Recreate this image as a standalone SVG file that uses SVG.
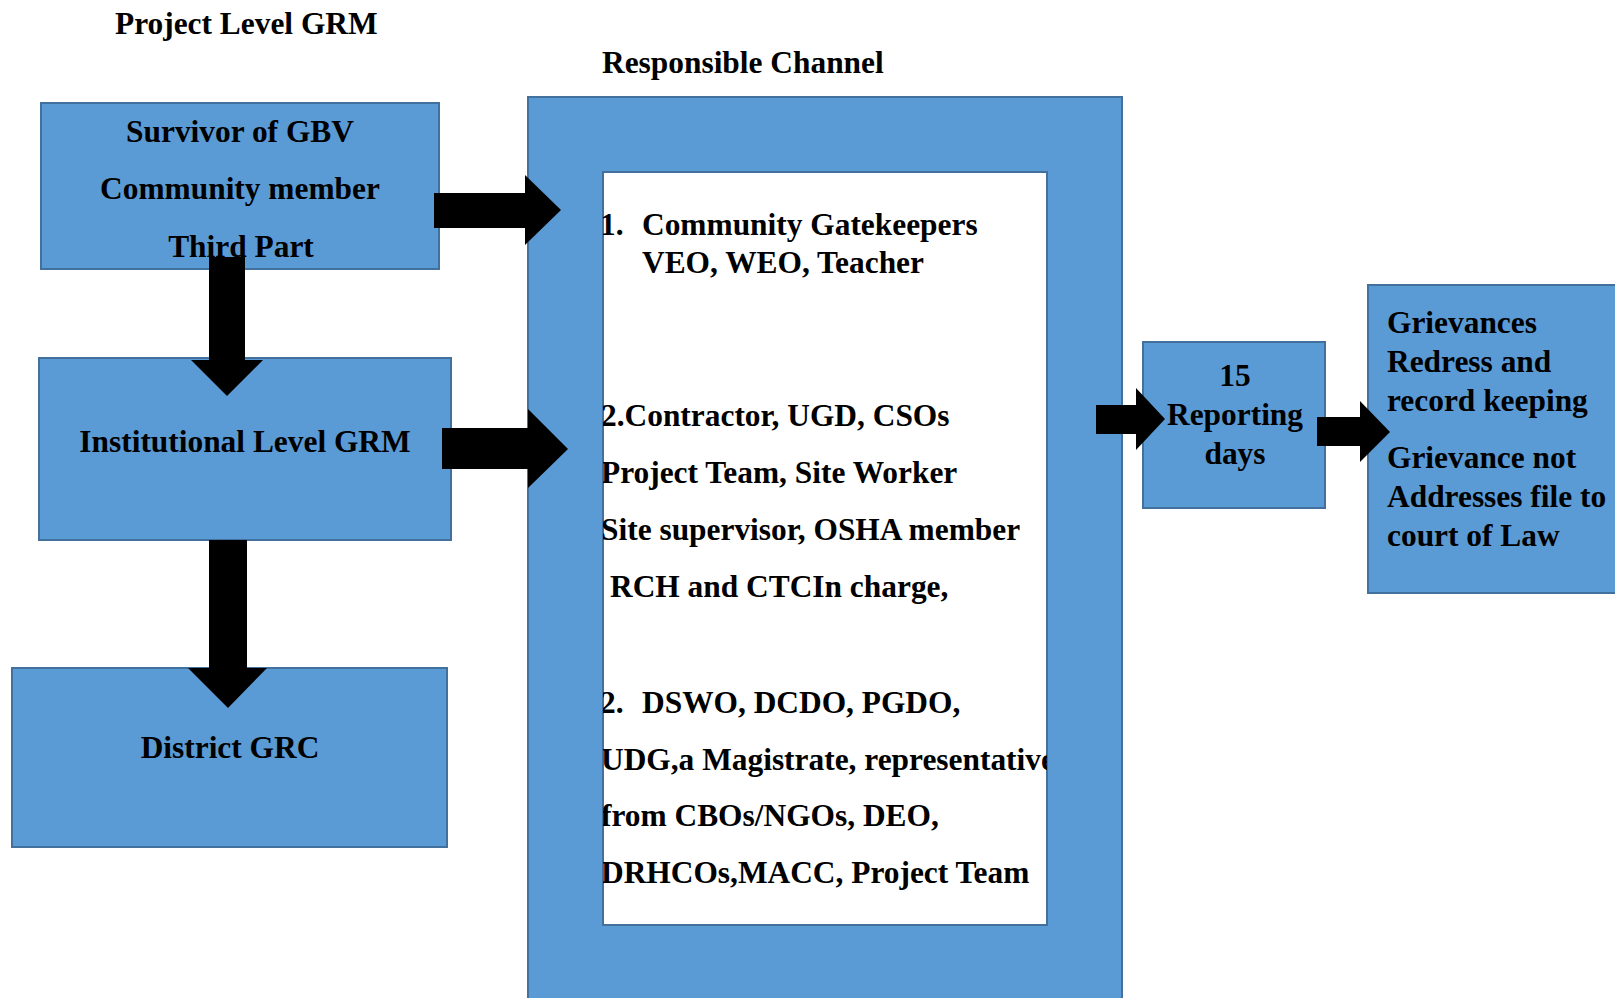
<svg xmlns="http://www.w3.org/2000/svg" width="1615" height="998" viewBox="0 0 1615 998">
<style>
.box{fill:#5B9BD5;stroke:#41719C;stroke-width:2}
.inner{fill:#FFFFFF;stroke:#41719C;stroke-width:2}
.t{font-family:"Liberation Serif","Times New Roman",serif;font-weight:bold;font-size:31.4px;fill:#000}
.c{text-anchor:middle}
.arrow{fill:#000}
</style>
<defs>
<clipPath id="innerClip"><rect x="603" y="173" width="444" height="752"/></clipPath>
</defs>
<rect width="1615" height="998" fill="#FFFFFF"/>
<text class="t" x="115" y="34">Project Level GRM</text>
<text class="t" x="602" y="73">Responsible Channel</text>

<g id="node-sources">
<rect class="box" x="41" y="103" width="398" height="166"/>
<text class="t c" x="240" y="142">Survivor of GBV</text>
<text class="t c" x="240" y="199">Community member</text>
<text class="t c" x="241" y="257">Third Part</text>
</g>

<g id="node-institutional">
<rect class="box" x="39" y="358" width="412" height="182"/>
<text class="t c" x="245" y="452">Institutional Level GRM</text>
</g>

<g id="node-district">
<rect class="box" x="12" y="668" width="435" height="179"/>
<text class="t c" x="230" y="758">District GRC</text>
</g>

<g id="node-channel">
<rect class="box" x="528" y="97" width="594" height="915"/>
<rect class="inner" x="603" y="172" width="444" height="753"/>
<g clip-path="url(#innerClip)">
<text class="t" y="235"><tspan x="600">1.</tspan><tspan x="642">Community Gatekeepers</tspan></text>
<text class="t" x="642" y="273">VEO, WEO, Teacher</text>
<text class="t" x="601" y="426">2.Contractor, UGD, CSOs</text>
<text class="t" x="601" y="483">Project Team, Site Worker</text>
<text class="t" x="601" y="540">Site supervisor, OSHA member</text>
<text class="t" x="610" y="597">RCH and CTCIn charge,</text>
<text class="t" y="713"><tspan x="600">2.</tspan><tspan x="642">DSWO, DCDO, PGDO,</tspan></text>
<text class="t" x="601" y="770">UDG,a Magistrate, representative</text>
<text class="t" x="601" y="826">from CBOs/NGOs, DEO,</text>
<text class="t" x="601" y="883">DRHCOs,MACC, Project Team</text>
</g>
</g>

<g id="node-days">
<rect class="box" x="1143" y="342" width="182" height="166"/>
<text class="t c" x="1235" y="386">15</text>
<text class="t c" x="1235" y="425">Reporting</text>
<text class="t c" x="1235" y="464">days</text>
</g>

<g id="node-outcome">
<rect class="box" x="1368" y="285" width="262" height="308"/>
<text class="t" x="1387" y="333">Grievances</text>
<text class="t" x="1387" y="372">Redress and</text>
<text class="t" x="1387" y="411">record keeping</text>
<text class="t" x="1387" y="468">Grievance not</text>
<text class="t" x="1387" y="507">Addresses file to</text>
<text class="t" x="1387" y="546">court of Law</text>
</g>

<g id="connectors">
<polygon class="arrow" points="434,193 525,193 525,175 561,210 525,245 525,228 434,228"/>
<polygon class="arrow" points="442,428 528,428 528,409 568,449 528,488 528,469 442,469"/>
<polygon class="arrow" points="209,257 245,257 245,360 263,360 227,396 191,360 209,360"/>
<polygon class="arrow" points="209,540 247,540 247,668 267,668 228,708 188,668 209,668"/>
<polygon class="arrow" points="1096,405 1136,405 1136,388 1165,419 1136,450 1136,434 1096,434"/>
<polygon class="arrow" points="1317,417 1360,417 1360,401 1390,432 1360,462 1360,446 1317,446"/>
</g>
</svg>
